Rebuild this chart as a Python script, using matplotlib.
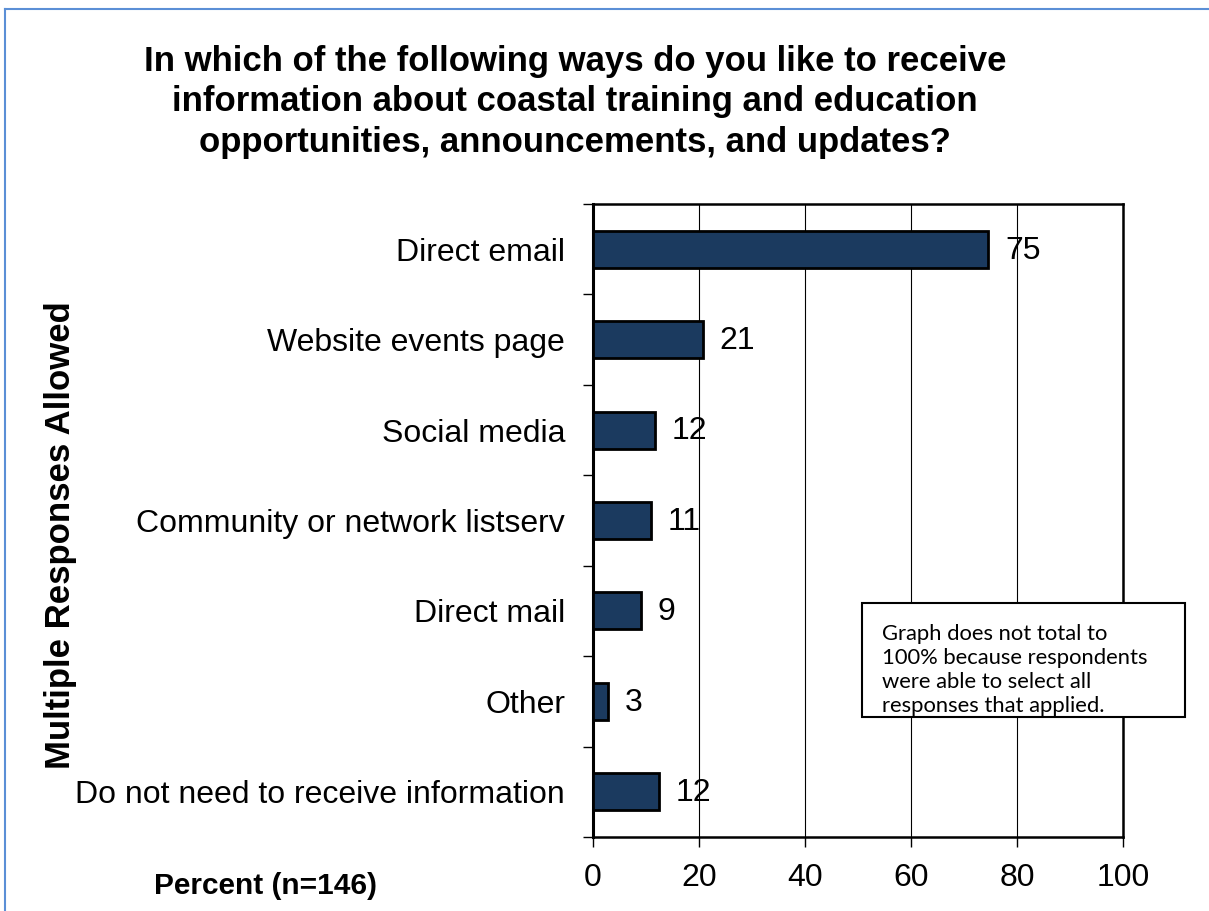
import numpy as np
import matplotlib.pyplot as plt
from matplotlib.lines import Line2D

# dati
categories = ['Direct email', 'Website events page', 'Social media',
              'Community or network listserv', 'Direct mail', 'Other',
              'Do not need to receive information']
bar_lengths = [74.6, 20.7, 11.7, 11.0, 9.0, 2.8, 12.4]
value_labels = ['75', '21', '12', '11', '9', '3', '12']
x_ticks = [0, 20, 40, 60, 80, 100]

title = ("In which of the following ways do you like to receive\n"
         "information about coastal training and education\n"
         "opportunities, announcements, and updates?")
note = ("Graph does not total to\n100% because respondents\n"
        "were able to select all\nresponses that applied.")

plt.rcParams['font.family'] = ['Liberation Sans', 'DejaVu Sans']

W, H = 1209, 911
fig = plt.figure(figsize=(W / 100, H / 100), dpi=100)

# posizione assi in pixel
ax = fig.add_axes([593 / W, 1 - 837 / H, (1123 - 593) / W, (837 - 204) / H])

y = np.arange(len(categories))
ax.barh(y, bar_lengths, height=0.41, color='#1b3a5f', edgecolor='black',
        linewidth=2, zorder=3)

for yi, v, lab in zip(y, bar_lengths, value_labels):
    ax.annotate(lab, (v, yi), xytext=(12, -1), textcoords='offset points',
                va='center', ha='left', fontsize=23, zorder=4)

ax.set_xlim(0, 100)
ax.set_ylim(len(categories) - 0.5, -0.5)
ax.set_xticks(x_ticks)
ax.set_xticklabels([str(t) for t in x_ticks], fontsize=23)
ax.set_yticks(y)
ax.set_yticklabels(categories, fontsize=23)
ax.set_yticks(np.arange(len(categories) + 1) - 0.5, minor=True)

ax.tick_params(axis='y', which='major', length=0, pad=20)
ax.tick_params(axis='y', which='minor', length=7, width=1, direction='out')
ax.tick_params(axis='x', which='major', length=7, width=1, direction='out', pad=12)

ax.grid(axis='x', color='black', linewidth=0.8, zorder=0)
for side in ['top', 'right', 'bottom']:
    ax.spines[side].set_linewidth(1.8)
ax.spines['left'].set_linewidth(2.2)

# titolo e etichette
fig.text(575 / W, 1 - 102 / H, title, ha='center', va='center',
         fontsize=25, fontweight='bold', linespacing=1.3)
fig.text(61 / W, 1 - 535 / H, 'Multiple Responses Allowed', rotation=90,
         ha='center', va='center', fontsize=25, fontweight='bold')
fig.text(265 / W, 1 - 886 / H, 'Percent (n=146)', ha='center', va='center',
         fontsize=21.5, fontweight='bold')

# riquadro nota
box = plt.Rectangle((862 / W, 1 - 717 / H), (1185 - 862) / W, (717 - 603) / H,
                    transform=fig.transFigure, fc='white', ec='black', lw=1.5,
                    zorder=5)
fig.patches.append(box)
fig.text(882 / W, 1 - 670 / H, note, ha='left', va='center', fontsize=15.8,
         family=['Lato', 'DejaVu Sans'], linespacing=1.27, zorder=6)

# cornice blu del documento
fx = 5 / W
fy = 1 - 9 / H
fig.add_artist(Line2D([fx, 1], [fy, fy], transform=fig.transFigure,
                      color='#5b8fd6', lw=1.5))
fig.add_artist(Line2D([fx, fx], [0, fy], transform=fig.transFigure,
                      color='#5b8fd6', lw=1.5))

fig.savefig('out.png', dpi=100)
